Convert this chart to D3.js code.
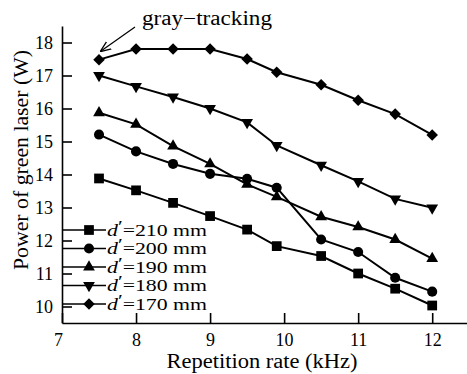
<!DOCTYPE html>
<html lang="en">
<head>
  <meta charset="UTF-8">
  <title>Green laser power</title>
  <script src="https://cdn.jsdelivr.net/npm/d3@7"></script>
  <style>
    body { margin: 0; background: #fff; }
    svg text { font-family: "Liberation Serif", "Times New Roman", serif; fill: #000; }
  </style>
</head>
<body>
  <div id="chart"></div>
  <script>
    // data
    const rates = [7.5, 8, 8.5, 9, 9.5, 9.9, 10.5, 11, 11.5, 12];
    const d210 = [13.88, 13.52, 13.14, 12.74, 12.33, 11.83, 11.53, 11.0, 10.54, 10.03];
    const d200 = [15.21, 14.7, 14.32, 14.02, 13.87, 13.6, 12.03, 11.65, 10.87, 10.45];
    const d190 = [15.87, 15.52, 14.86, 14.32, 13.7, 13.32, 12.72, 12.41, 12.03, 11.45];
    const d180 = [17.0, 16.67, 16.35, 16.0, 15.58, 14.88, 14.28, 13.79, 13.26, 12.99];
    const d170 = [17.48, 17.8, 17.8, 17.8, 17.5, 17.1, 16.72, 16.25, 15.83, 15.2];
    const labels = ["210", "200", "190", "180", "170"];
    const xTicks = [7, 8, 9, 10, 11, 12];
    const yTicks = [10, 11, 12, 13, 14, 15, 16, 17, 18];

    const series = [
      { name: labels[0], values: d210, symbol: d3.symbolSquare, size: 95, rot: 0 },
      { name: labels[1], values: d200, symbol: d3.symbolCircle, size: 80, rot: 0 },
      { name: labels[2], values: d190, symbol: d3.symbolTriangle, size: 60, rot: 0 },
      { name: labels[3], values: d180, symbol: d3.symbolTriangle, size: 60, rot: 180 },
      { name: labels[4], values: d170, symbol: d3.symbolDiamond2, size: 85, rot: 0 }
    ];

    const W = 467, H = 374;
    const svg = d3.select("#chart").append("svg")
      .attr("width", W).attr("height", H);

    const x = d3.scaleLinear().domain([7, 12.47]).range([62, 467]);
    const y = d3.scaleLinear().domain([9.5, 18.5]).range([323, 26]);

    // axes
    const gx = svg.append("g")
      .attr("transform", "translate(0,323)")
      .call(d3.axisBottom(x).tickValues(xTicks).tickFormat(d3.format("d"))
        .tickSize(-10).tickSizeOuter(0).tickPadding(10));
    const gy = svg.append("g")
      .attr("transform", "translate(62,0)")
      .call(d3.axisLeft(y).tickValues(yTicks).tickFormat(d3.format("d"))
        .tickSize(-10).tickSizeOuter(0).tickPadding(9));
    [gx, gy].forEach(g => {
      g.attr("font-family", null);
      g.selectAll("path, line").attr("stroke", "#000").attr("stroke-width", 1.6);
      g.selectAll("text").style("font-size", "18px").attr("fill", "#000");
    });
    gx.selectAll(".tick").filter(d => d === 7).select("text").attr("x", -4);

    // lines and markers
    const line = d3.line().x(d => x(d[0])).y(d => y(d[1]));
    series.forEach(s => {
      const pts = rates.map((r, i) => [r, s.values[i]]);
      svg.append("path").datum(pts)
        .attr("fill", "none").attr("stroke", "#000").attr("stroke-width", 2)
        .attr("d", line);
      svg.selectAll(null).data(pts).join("path")
        .attr("d", d3.symbol(s.symbol, s.size))
        .attr("transform", d => `translate(${x(d[0])},${y(d[1])}) rotate(${s.rot})`)
        .attr("fill", "#000");
    });

    // legend
    const leg = svg.append("g");
    series.forEach((s, i) => {
      const ly = 230 + i * 18.5;
      leg.append("line").attr("x1", 62).attr("x2", 106).attr("y1", ly).attr("y2", ly)
        .attr("stroke", "#000").attr("stroke-width", 1.6);
      leg.append("path").attr("d", d3.symbol(s.symbol, s.size)())
        .attr("transform", `translate(89,${ly}) rotate(${s.rot})`).attr("fill", "#000");
      const t = leg.append("text").attr("x", 107).attr("y", ly + 5.5)
        .attr("textLength", 100).attr("lengthAdjust", "spacingAndGlyphs")
        .style("font-size", "16px");
      t.append("tspan").style("font-style", "italic").text("d");
      t.append("tspan").attr("dy", -4).text("′");
      t.append("tspan").attr("dy", 4).text("=" + s.name + " mm");
    });

    // annotation
    svg.append("defs").append("marker")
      .attr("id", "arr").attr("viewBox", "0 0 10 10").attr("refX", 9).attr("refY", 5)
      .attr("markerWidth", 9).attr("markerHeight", 9).attr("orient", "auto")
      .append("path").attr("d", "M0,1 L10,5 L0,9").attr("fill", "none").attr("stroke", "#000").attr("stroke-width", 1.2);
    svg.append("line").attr("x1", 135).attr("y1", 27).attr("x2", 101).attr("y2", 51)
      .attr("stroke", "#000").attr("stroke-width", 1.2).attr("marker-end", "url(#arr)");
    svg.append("text").attr("x", 142).attr("y", 25)
      .attr("textLength", 130).attr("lengthAdjust", "spacingAndGlyphs")
      .style("font-size", "20px").text("gray−tracking");

    // axis titles
    svg.append("text").attr("x", 262).attr("y", 368).attr("text-anchor", "middle")
      .attr("textLength", 191).attr("lengthAdjust", "spacingAndGlyphs")
      .style("font-size", "20px").text("Repetition rate (kHz)");
    svg.append("text").attr("transform", "translate(28,160) rotate(-90)").attr("text-anchor", "middle")
      .attr("textLength", 220).attr("lengthAdjust", "spacingAndGlyphs")
      .style("font-size", "20px").text("Power of green laser (W)");
  </script>
</body>
</html>
